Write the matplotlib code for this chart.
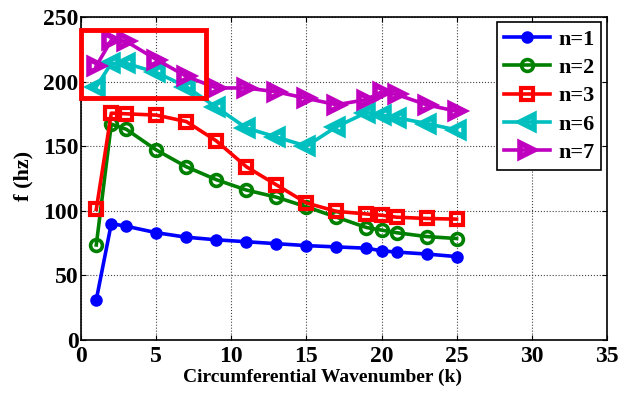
import numpy as np
import matplotlib
matplotlib.use('Agg')
import matplotlib.pyplot as plt
from matplotlib.patches import Rectangle

# ----------------------------------------------------------------------------------------------------------------------
#  DATA
# ----------------------------------------------------------------------------------------------------------------------
k_vals  = [1, 2, 3, 5, 7, 9, 11, 13, 15, 17, 19, 20, 21, 23, 25]
f_n1    = [31, 90, 88, 83, 79.5, 77.5, 76, 74.5, 73, 72, 71, 69, 68, 66.5, 64.5]
f_n2    = [73.5, 167, 163, 147, 134, 124, 116, 110.5, 103, 95, 87, 85, 83, 80, 78.5]
f_n3    = [101, 175.5, 175, 174, 169, 154, 134, 120, 106, 99.5, 97.5, 96.5, 95, 94, 93.5]
f_n6    = [196, 214, 214, 207, 196, 180, 164, 157, 150, 165, 176, 174, 172, 167.5, 162.5]
f_n7    = [212, 232, 231, 217, 204, 195, 195, 192, 187, 182, 186, 192, 190, 182, 177]
labels  = ['n=1', 'n=2', 'n=3', 'n=6', 'n=7']

# highlight box (data coords)
box_x   = [0.0, 8.3]
box_y   = [187, 240]

# ----------------------------------------------------------------------------------------------------------------------
#  PLOT
# ----------------------------------------------------------------------------------------------------------------------
plt.rcParams['font.family'] = ['Liberation Serif', 'DejaVu Serif']
plt.rcParams['font.weight'] = 'bold'

fig = plt.figure(figsize=(6.3, 3.93), dpi=100)
ax  = fig.add_axes([0.129, 0.135, 0.834, 0.822])

series  = [f_n1, f_n2, f_n3, f_n6, f_n7]
colors  = ['#0000ff', '#008000', '#ff0000', '#00bfbf', '#bf00bf']
markers = ['o', 'o', 's', '<', '>']
msizes  = [7.5, 8.5, 8, 9.5, 9.5]
mews    = [1.5, 2.6, 3.0, 4.0, 4.0]

for vals, col, mk, ms, mew, lab in zip(series, colors, markers, msizes, mews, labels):
    face = col if lab == 'n=1' else 'none'
    ax.plot(k_vals, vals, color=col, marker=mk, markersize=ms, linewidth=2.6,
            markerfacecolor=face, markeredgewidth=mew, label=lab)

ax.add_patch(Rectangle((box_x[0], box_y[0]), box_x[1]-box_x[0], box_y[1]-box_y[0],
                       fill=False, edgecolor='#ff0000', linewidth=3.5, clip_on=False, zorder=5))

ax.set_xlim([0, 35])
ax.set_ylim([0, 250])
ax.set_xticks(np.arange(0, 36, 5))
ax.set_yticks(np.arange(0, 251, 50))
ax.grid(True, linestyle=':', color='#444444', linewidth=0.8)
ax.tick_params(direction='in', top=True, right=True, labelsize=17, pad=2)
ax.tick_params(axis='x', pad=4)
for spine in ax.spines.values():
    spine.set_linewidth(1.2)

ax.set_xlabel('Circumferential Wavenumber (k)', fontsize=14, fontweight='bold')
ax.set_ylabel('f (hz)', fontsize=16, fontweight='bold')
ax.xaxis.set_label_coords(0.46, -0.09)
ax.yaxis.set_label_coords(-0.09, 0.508)

leg = ax.legend(loc='upper right', fontsize=16, fancybox=False, framealpha=1,
                edgecolor='black', borderaxespad=0.25, handlelength=2.1,
                labelspacing=0.35, borderpad=0.3, handletextpad=0.35)
leg.get_frame().set_linewidth(1.2)

fig.savefig('out.png', dpi=100)
